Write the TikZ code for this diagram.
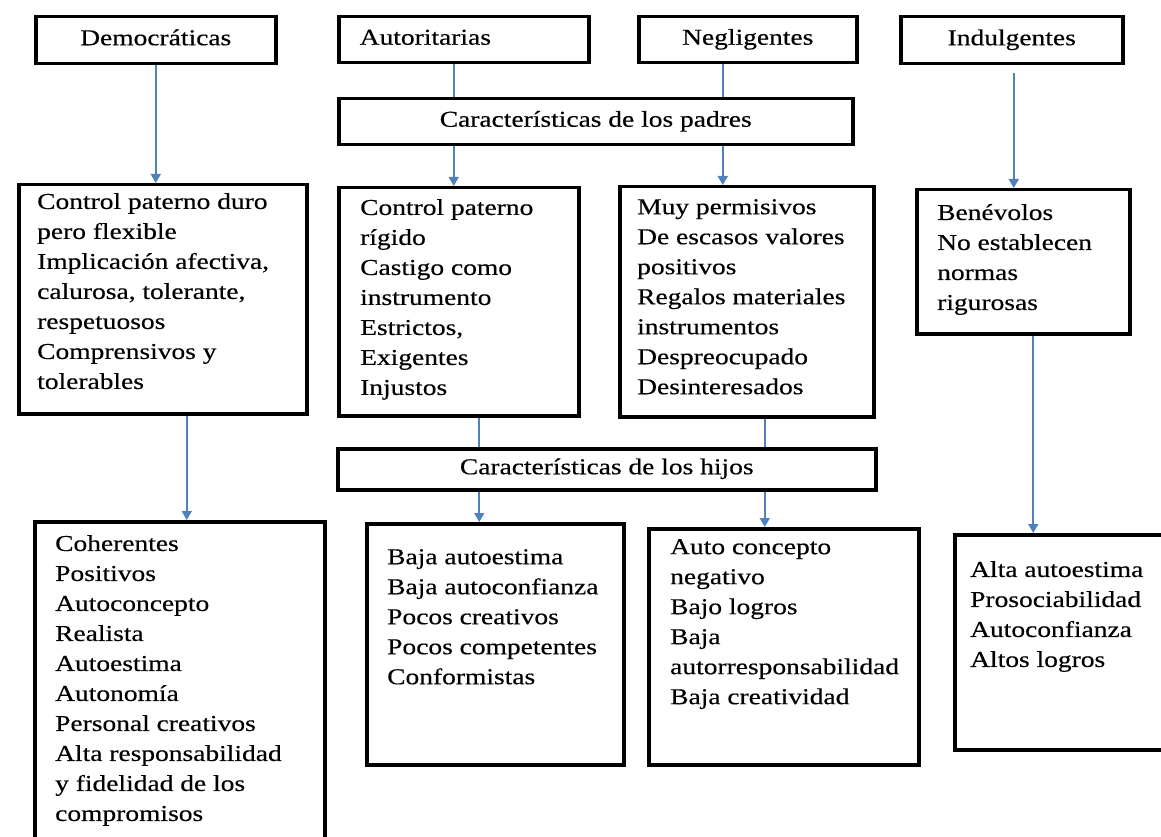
\documentclass[tikz,border=0pt]{standalone}
\usepackage{fontspec}
\setmainfont{Liberation Serif}[FakeStretch=1.21,FakeBold=0.4]
\usetikzlibrary{arrows.meta}
\definecolor{azulflecha}{RGB}{79,129,189}
\newcommand{\letra}{\fontsize{22.7}{30}\selectfont}

\begin{document}
\begin{tikzpicture}[x=1pt,y=-1pt,
    caja/.style={draw,line width=3.5pt,inner sep=0pt,anchor=north west,font=\letra,text height=15pt,text depth=5pt},
    texto/.style={anchor=north west,inner sep=0pt,align=left,font=\letra},
    flecha/.style={draw=azulflecha,line width=1.6pt,-{Triangle[width=10pt,length=9pt]}},
    linea/.style={draw=azulflecha,line width=1.6pt}]
                \useasboundingbox (0,0) rectangle (1161,837);
                % estilos de padres
                \node[caja,minimum width=240pt,minimum height=47pt] (demo) at (34,15) {Democráticas};
                \node[caja,minimum width=250pt,minimum height=46pt,inner xsep=21pt,text width=208pt,align=left] (autor) at (337,15) {Autoritarias};
                \node[caja,minimum width=218pt,minimum height=46pt] (negl) at (637,15) {Negligentes};
                \node[caja,minimum width=222pt,minimum height=47pt] (indul) at (899,15) {Indulgentes};
                \node[caja,minimum width=514pt,minimum height=46pt] (padres) at (337,97) {Características de los padres};
                \node[caja,minimum width=538pt,minimum height=41pt] (hijos) at (336,447) {Características de los hijos};
                % cajas de padres
                \node[caja,minimum width=288pt,minimum height=229pt] (duro) at (17,183) {};
                \node[caja,minimum width=240pt,minimum height=228pt] (rigido) at (337,186) {};
                \node[caja,minimum width=254pt,minimum height=230pt] (perm) at (618,185) {};
                \node[caja,minimum width=213pt,minimum height=144pt] (benev) at (915,188) {};
                % cajas de hijos
                \node[caja,minimum width=290pt,minimum height=330pt] (coher) at (33,520) {};
                \node[caja,minimum width=257pt,minimum height=241pt] (baja) at (365,522) {};
                \node[caja,minimum width=270pt,minimum height=236pt] (autoc) at (647,527) {};
                \node[caja,minimum width=222pt,minimum height=215pt] (alta) at (953,533) {};
                % textos
                \node[texto] (duro-t) at (37,193) {Control paterno duro\\pero flexible\\Implicación afectiva,\\calurosa, tolerante,\\respetuosos\\Comprensivos y\\tolerables};
                \node[texto] (rigido-t) at (360,199) {Control paterno\\rígido\\Castigo como\\instrumento\\Estrictos,\\Exigentes\\Injustos};
                \node[texto] (perm-t) at (637,199) {Muy permisivos\\De escasos valores\\positivos\\Regalos materiales\\instrumentos\\Despreocupado\\Desinteresados};
                \node[texto] (benev-t) at (937,204) {Benévolos\\No establecen\\normas\\rigurosas};
                \node[texto] (coher-t) at (55,535) {Coherentes\\Positivos\\Autoconcepto\\Realista\\Autoestima\\Autonomía\\Personal creativos\\Alta responsabilidad\\y fidelidad de los\\compromisos};
                \node[texto] (baja-t) at (387,549) {Baja autoestima\\Baja autoconfianza\\Pocos creativos\\Pocos competentes\\Conformistas};
                \node[texto] (autoc-t) at (670,539) {Auto concepto\\negativo\\Bajo logros\\Baja\\autorresponsabilidad\\Baja creatividad};
                \node[texto] (alta-t) at (970,561) {Alta autoestima\\Prosociabilidad\\Autoconfianza\\Altos logros};
                % conectores
                \draw[flecha] (demo.south) -- (demo.south |- duro.north);
                \draw[linea] ([xshift=-10pt]autor.south) -- ([xshift=-10pt]autor.south |- padres.north);
                \draw[linea] ([xshift=-25pt]negl.south) -- ([xshift=-25pt]negl.south |- padres.north);
                \draw[flecha] ([xshift=-5pt]rigido.north |- padres.south) -- ([xshift=-5pt]rigido.north);
                \draw[flecha] ([xshift=-24pt]perm.north |- padres.south) -- ([xshift=-24pt]perm.north);
                \draw[flecha] ([xshift=2pt,yshift=-8pt]indul.south) -- ([xshift=2pt]indul.south |- benev.north);
                \draw[flecha] ([xshift=24pt]duro.south) -- ([xshift=24pt]duro.south |- coher.north);
                \draw[linea] ([xshift=20pt]rigido.south) -- ([xshift=20pt]rigido.south |- hijos.north);
                \draw[linea] ([xshift=18pt]perm.south) -- ([xshift=18pt]perm.south |- hijos.north);
                \draw[flecha] ([xshift=-16pt]baja.north |- hijos.south) -- ([xshift=-16pt]baja.north);
                \draw[flecha] ([xshift=-19pt]autoc.north |- hijos.south) -- ([xshift=-19pt]autoc.north);
                \draw[flecha] ([xshift=10pt]benev.south) -- ([xshift=10pt]benev.south |- alta.north);
            \end{tikzpicture}
\end{document}
